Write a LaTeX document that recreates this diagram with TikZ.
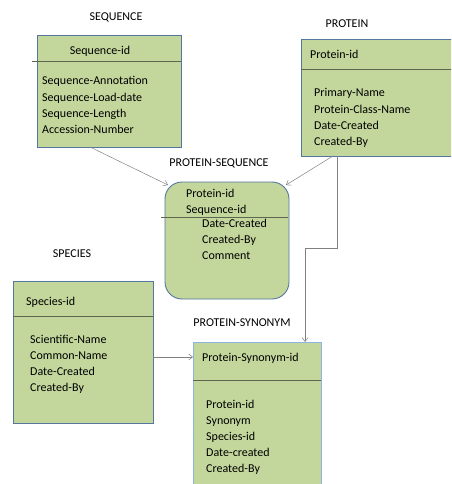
\documentclass[tikz,border=0pt]{standalone}
\usepackage{fontspec}
\setmainfont{Carlito}
\usetikzlibrary{calc, arrows.meta}

\definecolor{entfill}{HTML}{C3D69B}
\definecolor{entline}{HTML}{5676A0}
\definecolor{synline}{HTML}{8EB4E3}
\definecolor{divline}{HTML}{5E6650}
\definecolor{linkgrey}{HTML}{808080}

\begin{document}
\begin{tikzpicture}[x=1pt, y=-1pt,
  entity/.style={draw=entline, fill=entfill, line width=0.9pt, outer sep=0pt, inner sep=0pt},
  title/.style={font=\fontsize{12}{16}\selectfont, inner sep=0pt, anchor=base},
  attr/.style={font=\fontsize{12}{16}\selectfont, inner sep=0pt, align=left, anchor=base west},
  divider/.style={draw=divline, line width=0.8pt},
  link/.style={draw=linkgrey, line width=0.5pt, -{Straight Barb[length=4pt, width=6pt]}}]
  \clip (0,0) rectangle (451,484);

  % entity boxes
  \node[entity, minimum width=144pt, minimum height=112pt] (seq) at (109,91) {};
  \node[entity, minimum width=154pt, minimum height=117pt] (prot) at (378,97.5) {};
  \node[entity, rounded corners=17pt, minimum width=124pt, minimum height=117pt] (protseq) at (227,240.5) {};
  \node[entity, minimum width=140pt, minimum height=142pt] (spec) at (83,352) {};
  \node[entity, draw=synline, minimum width=128pt, minimum height=153pt] (syn) at (257,418.5) {};

  % key dividers
  \draw[divider] ([xshift=-5pt]seq.west |- 0,61) -- (seq.east |- 0,61);
  \draw[divider] (prot.west |- 0,69) -- (prot.east |- 0,69);
  \draw[divider] ([xshift=-4pt]protseq.west |- 0,217) -- ([xshift=-1pt]protseq.east |- 0,217);
  \draw[divider] (spec.west |- 0,316) -- (spec.east |- 0,316);
  \draw[divider] (syn.west |- 0,380) -- (syn.east |- 0,380);

  % titles
  \node[title] (seqtitle) at (116,21) {SEQUENCE};
  \node[title] (prottitle) at (347,28) {PROTEIN};
  \node[title] (protseqtitle) at (219,166) {PROTEIN-SEQUENCE};
  \node[title] (spectitle) at (72,257) {SPECIES};
  \node[title] (syntitle) at (242,326) {PROTEIN-SYNONYM};

  % keys and attributes (anchored on the last line)
  \node[title] (seqkey) at (100,55) {Sequence-id};
  \node[attr] (seqattr) at (42,133) {Sequence-Annotation\\Sequence-Load-date\\Sequence-Length\\Accession-Number};
  \node[attr] (protkey) at (310,59) {Protein-id};
  \node[attr] (protattr) at (314,145) {Primary-Name\\Protein-Class-Name\\Date-Created\\Created-By};
  \node[attr] (protseqkey) at (186,213) {Protein-id\\Sequence-id};
  \node[attr] (protseqattr) at (202,259) {Date-Created\\Created-By\\Comment};
  \node[attr] (speckey) at (26,305) {Species-id};
  \node[attr] (specattr) at (30,391) {Scientific-Name\\Common-Name\\Date-Created\\Created-By};
  \node[attr] (synkey) at (202,361) {Protein-Synonym-id};
  \node[attr] (synattr) at (206,472) {Protein-id\\Synonym\\Species-id\\Date-created\\Created-By};

  % relationships
  \draw[link] ([xshift=-19pt]seq.south) -- ([xshift=3pt, yshift=-3pt]protseq.north west);
  \draw[link] ([xshift=-45pt]prot.south) -- ([xshift=-3pt, yshift=-3pt]protseq.north east);
  \draw[link] ([xshift=-41pt]prot.south) -- ++(0,92) -| ([xshift=48pt]syn.north);
  \coordinate (specout) at ([yshift=-5pt]spec.east);
  \draw[link] (specout) -- (specout -| syn.west);
\end{tikzpicture}
\end{document}
